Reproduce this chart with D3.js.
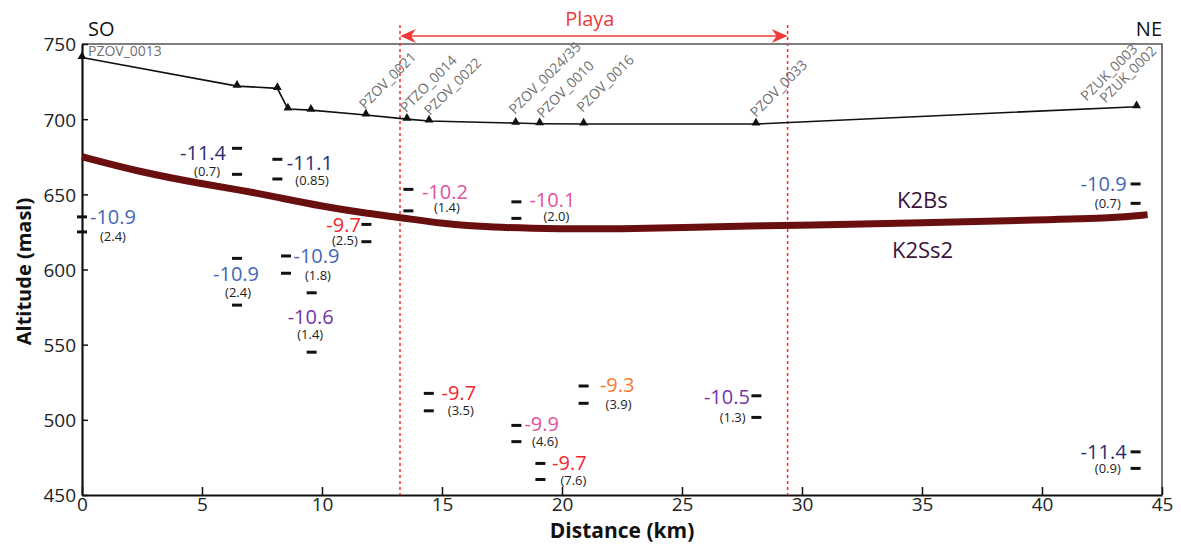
<!DOCTYPE html>
<html><head><meta charset="utf-8">
<script src="https://cdn.jsdelivr.net/npm/d3@7"></script>
<style>
body{margin:0;background:#fff}
svg{display:block}
text{font-family:"Open Sans",sans-serif}
</style>
</head><body>
<svg id="chart" width="1181" height="544"></svg>
<script>
// ---------- data ----------
const xTickValues = [0, 5, 10, 15, 20, 25, 30, 35, 40, 45];
const yTickValues = [450, 500, 550, 600, 650, 700, 750];

// ground surface profile (km, masl)
const groundDist = [0, 6.46, 8.14, 8.58, 9.54, 11.83, 13.54, 14.46, 18.07, 19.07, 20.9, 28.08, 43.94];
const groundAlt  = [741, 722, 720.5, 706.8, 706, 702.8, 700, 698.8, 697.4, 697, 696.8, 696.8, 708.3];

// well names and the profile point they sit on
const siteNames = ["PZOV_0013", "PZOV_0021", "PTZO_0014", "PZOV_0022", "PZOV_0024/35", "PZOV_0010", "PZOV_0016", "PZOV_0033", "PZUK_0003", "PZUK_0002"];
const siteDist  = [0, 11.83, 13.54, 14.46, 18.07, 19.07, 20.9, 28.08, 43.94, 43.94];
const siteAlt   = [741, 702.8, 700, 698.8, 697.4, 697, 696.8, 696.8, 708.3, 708.3];

// K2Bs / K2Ss2 contact
const contactDist = [0, 2.5, 5, 6.6, 8, 10, 12, 13.3, 15, 17, 20, 22.5, 25, 28, 30, 35, 40, 43, 44.4];
const contactAlt  = [675, 664.5, 657, 652.8, 648.5, 642, 637, 634.5, 630.5, 628, 627, 627, 628, 629, 629.5, 631, 633, 634.2, 636.5];

// screened intervals and d18O values
const sampleDist   = [0, 6.46, 8.14, 6.46, 8.5, 9.57, 11.85, 13.6, 18.1, 14.45, 18.1, 19.1, 20.9, 28.1, 43.9, 43.9];
const sampleTop    = [635, 680.6, 673.3, 607.4, 609, 584.5, 630, 653.3, 645, 517.6, 496.3, 471, 522.5, 516, 656.9, 478.7];
const sampleBottom = [625, 663.3, 660.2, 576.3, 597.5, 545, 618.5, 639, 634, 506, 485.5, 460.3, 511, 501.6, 644, 467.7];
const sampleValue  = [-10.9, -11.4, -11.1, -10.9, -10.9, -10.6, -9.7, -10.2, -10.1, -9.7, -9.9, -9.7, -9.3, -10.5, -10.9, -11.4];
const sampleSd     = ["(2.4)", "(0.7)", "(0.85)", "(2.4)", "(1.8)", "(1.4)", "(2.5)", "(1.4)", "(2.0)", "(3.5)", "(4.6)", "(7.6)", "(3.9)", "(1.3)", "(0.7)", "(0.9)"];

const playaStart = 13.25, playaEnd = 29.4;

// ---------- layout (pixels) ----------
// [anchor, value dx, value dy (from top dash), sd dx, sd dy (from bottom dash)]
const labelLayout = [
  ["start", 8, 0, 18, 5],
  ["end", -11, 5, -17, -3],
  ["start", 9.5, 4, 18, 1],
  ["middle", -1, 16, 1, -13],
  ["start", 7.5, 0, 19, 2.5],
  ["middle", -1, 24, -1.5, -18],
  ["end", -5.5, 1, -8.5, -1],
  ["start", 13.5, 2.5, 25.5, -3],
  ["start", 13, -1.7, 27, -1.6],
  ["start", 12.7, 0, 19, 0],
  ["start", 8, -1.3, 15.7, 0],
  ["start", 11.7, 0, 20, 0.7],
  ["start", 16.3, -1, 22, 0.7],
  ["end", -6.5, 1, -10.8, 0],
  ["end", -9, 0, -14.8, -0.3],
  ["end", -9, 0, -14.8, 0]
];
const siteOffset = [[6, -2], [-1, -5], [-1, -6], [1, -5], [-1, -8], [3, -5], [-1, -11], [0, -6], [-50, -5], [-31, -3]];

const svg = d3.select("#chart");
const x = d3.scaleLinear().domain([0, 45]).range([82, 1162]);
const y = d3.scaleLinear().domain([450, 750]).range([495, 44]);

// frame top/right
svg.append("path")
  .attr("d", `M${x(0)},${y(750)}H${x(45)}V${y(450)}`)
  .attr("fill", "none").attr("stroke", "#555").attr("stroke-width", 1.6);

// axes
const gx = svg.append("g").attr("transform", `translate(0,${y(450)})`)
  .call(d3.axisBottom(x).tickValues(xTickValues).tickSizeInner(-8).tickSizeOuter(0).tickPadding(4));
const gy = svg.append("g").attr("transform", `translate(${x(0)},0)`)
  .call(d3.axisLeft(y).tickValues(yTickValues).tickSizeInner(-6).tickSizeOuter(0).tickPadding(6));
[gx, gy].forEach(g => {
  g.select(".domain").attr("stroke", "#111").attr("stroke-width", 2.2);
  g.selectAll(".tick line").attr("stroke", "#111").attr("stroke-width", 1.5);
  g.selectAll(".tick text").attr("font-size", 19).attr("fill", "#222").attr("font-family", '"Open Sans",sans-serif');
});
gx.selectAll(".tick text").attr("dy", "0.62em");
gy.selectAll(".tick text").attr("dy", "0.36em");

// axis titles
svg.append("text").attr("x", x(22.5)).attr("y", 538).attr("text-anchor", "middle")
  .attr("font-size", 21).attr("font-weight", "bold").attr("fill", "#111").text("Distance (km)");
svg.append("text").attr("transform", `translate(31,${(y(450) + y(750)) / 2 + 2}) rotate(-90)`)
  .attr("text-anchor", "middle").attr("font-size", 20).attr("font-weight", "bold").attr("fill", "#111")
  .text("Altitude (masl)");

// SO / NE
svg.append("text").attr("x", 88).attr("y", 36).attr("font-size", 20).attr("fill", "#111").text("SO");
svg.append("text").attr("x", 1162).attr("y", 36).attr("text-anchor", "end").attr("font-size", 20).attr("fill", "#111").text("NE");

// playa
const red = "#f03a3a";
[playaStart, playaEnd].forEach(d => {
  svg.append("line").attr("x1", x(d)).attr("x2", x(d)).attr("y1", 25).attr("y2", y(450))
    .attr("stroke", red).attr("stroke-width", 1.6).attr("stroke-dasharray", "3,3");
});
const ay = 36, x0 = x(playaStart), x1 = x(playaEnd);
svg.append("line").attr("x1", x0 + 8).attr("x2", x1 - 8).attr("y1", ay).attr("y2", ay)
  .attr("stroke", red).attr("stroke-width", 1.6);
svg.append("path").attr("d", `M${x0},${ay}L${x0 + 16},${ay - 7}L${x0 + 11},${ay}L${x0 + 16},${ay + 7}Z`).attr("fill", red);
svg.append("path").attr("d", `M${x1},${ay}L${x1 - 16},${ay - 7}L${x1 - 11},${ay}L${x1 - 16},${ay + 7}Z`).attr("fill", red);
svg.append("text").attr("x", (x0 + x1) / 2 - 4).attr("y", 26).attr("text-anchor", "middle")
  .attr("font-size", 20).attr("fill", red).text("Playa");

// contact line
const contact = contactDist.map((d, i) => [d, contactAlt[i]]);
svg.append("path").datum(contact)
  .attr("d", d3.line().x(d => x(d[0])).y(d => y(d[1])).curve(d3.curveBasis))
  .attr("fill", "none").attr("stroke", "#6a0f0f").attr("stroke-width", 7);
svg.append("text").attr("x", 897).attr("y", 208).attr("font-size", 22).attr("fill", "#3b1438").text("K2Bs");
svg.append("text").attr("x", 892).attr("y", 258).attr("font-size", 22).attr("fill", "#3b1438").text("K2Ss2");

// ground profile
const ground = groundDist.map((d, i) => [d, groundAlt[i]]);
svg.append("path").datum(ground)
  .attr("d", d3.line().x(d => x(d[0])).y(d => y(d[1])))
  .attr("fill", "none").attr("stroke", "#111").attr("stroke-width", 1.6);
svg.selectAll(".tri").data(ground).join("path").attr("class", "tri")
  .attr("transform", d => `translate(${x(d[0])},${y(d[1]) - 1})`)
  .attr("d", d3.symbol(d3.symbolTriangle, 34)).attr("fill", "#111");

// site labels
siteNames.forEach((name, i) => {
  const px = x(siteDist[i]) + siteOffset[i][0], py = y(siteAlt[i]) + siteOffset[i][1];
  svg.append("text").attr("transform", i === 0 ? `translate(${px},${py})` : `translate(${px},${py}) rotate(-45)`)
    .attr("font-size", 14).attr("fill", "#707070").text(name);
});

// samples
const color = d3.scaleThreshold().domain([-11.0, -10.7, -10.3, -9.8, -9.5])
  .range(["#2c2e70", "#4666b8", "#7533a6", "#e0529e", "#f2262d", "#f47b30"]);
sampleDist.forEach((d, i) => {
  const cx = x(d), yt = y(sampleTop[i]), yb = y(sampleBottom[i]);
  [yt, yb].forEach(yy => svg.append("line").attr("x1", cx - 5).attr("x2", cx + 5).attr("y1", yy).attr("y2", yy)
    .attr("stroke", "#111").attr("stroke-width", 3));
  const L = labelLayout[i];
  svg.append("text").attr("x", cx + L[1]).attr("y", yt + L[2]).attr("dy", "0.35em")
    .attr("text-anchor", L[0]).attr("font-size", 20).attr("fill", color(sampleValue[i]))
    .text(d3.format(".1f")(sampleValue[i]).replace("−", "-"));
  svg.append("text").attr("x", cx + L[3]).attr("y", yb + L[4]).attr("dy", "0.35em")
    .attr("text-anchor", L[0]).attr("font-size", 13).attr("fill", "#222").text(sampleSd[i]);
});
</script>
</body></html>
